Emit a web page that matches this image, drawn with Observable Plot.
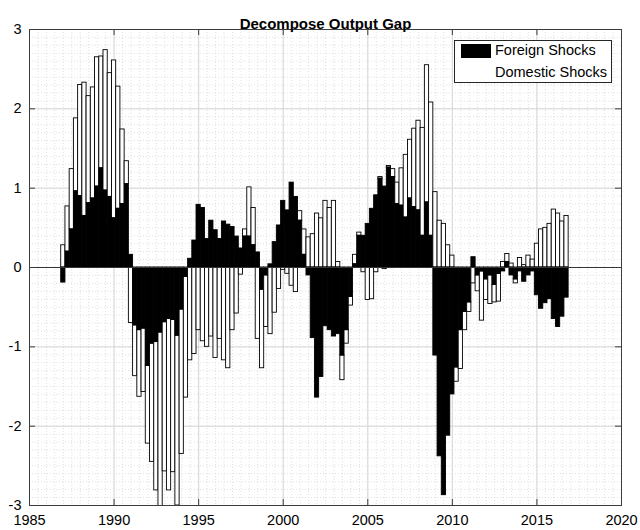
<!DOCTYPE html>
<html><head><meta charset="utf-8">
<script src="https://cdn.jsdelivr.net/npm/d3@7"></script>
<script src="https://cdn.jsdelivr.net/npm/@observablehq/plot@0.6"></script>
<style>
body{margin:0;background:#fff;font-family:"Liberation Sans",Arial,sans-serif;}
#wrap{position:relative;width:640px;height:530px;}
#legend{position:absolute;left:454px;top:40px;width:156px;height:41px;border:1px solid #262626;background:#fff;font-size:14.5px;color:#000;}
#legend .sw{position:absolute;left:6px;top:3px;width:30px;height:14px;background:#000;}
#legend .l1{position:absolute;left:40px;top:0px;line-height:18px;}
#legend .l2{position:absolute;left:40px;top:22px;line-height:18px;}
</style></head><body><div id="wrap"><div id="legend"><div class="sw"></div><div class="l1">Foreign Shocks</div><div class="l2">Domestic Shocks</div></div></div>
<script>
const title = "Decompose Output Gap";
const seriesNames = ["Foreign Shocks", "Domestic Shocks"];
const startYear = 1987; // first quarter 1987Q1, quarterly
const foreign = [
 -0.19,0.20,0.48,0.96, 0.90,0.65,0.81,0.87, 1.02,1.25,0.97,0.89, 0.62,0.74,0.80,1.05,
 0.16,-0.73,-0.79,-0.77, -1.24,-0.96,-0.94,-0.82, -0.69,-0.65,-0.66,-0.86, -0.53,-0.12,0.11,0.34,
 0.79,0.75,0.36,0.59, 0.47,0.36,0.58,0.54, 0.51,0.39,0.24,0.39, 0.39,0.28,0.19,-0.28,
 -0.10,0.04,0.32,0.53, 0.84,0.72,1.07,0.89, 0.59,0.16,-0.10,-0.89, -1.64,-1.38,-0.74,-0.79,
 -0.87,-0.84,-1.11,-0.79, -0.37,0.04,0.40,0.40, 0.55,0.74,0.91,1.12, 1.02,1.26,1.14,0.80,
 0.78,0.63,0.87,0.76, 0.72,0.40,0.82,0.40, -1.11,-2.38,-2.87,-2.12, -1.60,-1.26,-0.79,-0.56,
 -0.44,0.13,-0.10,-0.05, -0.15,-0.10,-0.22,-0.08, -0.05,0.07,-0.10,-0.15, -0.05,-0.18,-0.10,-0.05,
 -0.35,-0.52,-0.45,-0.40, -0.65,-0.75,-0.62,-0.38
];
const domestic = [
 0.28,0.57,0.76,0.92, 1.40,1.68,1.35,1.40, 1.63,1.41,1.77,1.56, 1.99,1.54,0.94,0.29,
 -0.70,-0.64,-0.84,-0.80, -0.98,-1.49,-1.87,-2.23, -1.88,-2.16,-1.92,-2.14, -1.82,-1.52,-1.17,-1.09,
 -0.79,-0.93,-1.00,-0.87, -1.14,-0.90,-1.17,-1.27, -0.79,-0.58,-0.09,0.09, 0.62,0.47,-0.90,-0.99,
 -0.65,-0.84,-0.57,-0.27, -0.03,-0.08,-0.23,-0.31, 0.12,0.32,0.38,0.42, 0.68,0.62,0.84,0.75,
 0.84,0.07,-0.31,-0.17, -0.11,0.12,0.04,-0.06, -0.41,-0.40,-0.06,0.02, -0.02,0.02,0.10,0.27,
 0.47,0.79,0.74,0.99, 1.13,1.36,1.73,1.68, 0.95,0.59,0.55,0.28, 0.15,-0.18,-0.49,-0.23,
 -0.12,-0.20,-0.20,-0.62, -0.26,-0.36,-0.22,-0.35, 0.07,0.10,0.05,-0.05, 0.12,0.03,0.15,0.10,
 0.30,0.48,0.50,0.55, 0.73,0.68,0.58,0.65
];
const xTickLabels = [1985,1990,1995,2000,2005,2010,2015,2020];
const yTickLabels = [-3,-2,-1,0,1,2,3];
const xMinor = d3.range(1985, 2020.001, 0.5);
const yMinor = d3.range(-30, 31, 1).map(v => v / 10);

// stacked bars: positives stack up, negatives stack down (foreign first)
const rows = [];
foreign.forEach((f, i) => {
  const t = startYear + i / 4;
  const d = domestic[i];
  const base = Math.sign(d) === Math.sign(f) ? f : 0;
  rows.push({t, series: seriesNames[1], y1: base, y2: base + d});
  rows.push({t, series: seriesNames[0], y1: 0, y2: f});
});

const W = 640, H = 530, mL = 29, mR = 19, mT = 29, mB = 25;
const iW = W - mL - mR, iH = H - mT - mB, tk = 6;

const chart = Plot.plot({
  width: W, height: H,
  marginLeft: mL, marginRight: mR, marginTop: mT, marginBottom: mB,
  style: {fontFamily: "Liberation Sans, Arial, sans-serif", fontSize: "14px", background: "#fff", color: "#000"},
  x: {domain: [1985, 2020]},
  y: {domain: [-3, 3]},
  color: {domain: seriesNames, range: ["#000", "#fff"]},
  marks: [
    Plot.ruleX(xMinor, {x: d => d, stroke: "#d2d2d2", strokeWidth: 0.7, strokeDasharray: "1,2"}),
    Plot.ruleY(yMinor, {y: d => d, stroke: "#d2d2d2", strokeWidth: 0.7, strokeDasharray: "1,2"}),
    Plot.ruleX(xTickLabels, {x: d => d, stroke: "#d6d6d6", strokeWidth: 1}),
    Plot.ruleY(yTickLabels, {y: d => d, stroke: "#d6d6d6", strokeWidth: 1}),
    Plot.rect(rows, {
      x1: d => d.t - 0.125, x2: d => d.t + 0.125, y1: "y1", y2: "y2",
      fill: "series", stroke: "#000", strokeWidth: 0.9, clip: true
    }),
    Plot.ruleY([0], {stroke: "#333", strokeWidth: 1}),
    Plot.frame({stroke: "#3c3c3c", strokeWidth: 1}),
    Plot.tickX(xTickLabels, {x: d => d, insetTop: iH - tk, stroke: "#3c3c3c"}),
    Plot.tickX(xTickLabels, {x: d => d, insetBottom: iH - tk, stroke: "#3c3c3c"}),
    Plot.tickY(yTickLabels, {y: d => d, insetRight: iW - tk, stroke: "#3c3c3c"}),
    Plot.tickY(yTickLabels, {y: d => d, insetLeft: iW - tk, stroke: "#3c3c3c"}),
    Plot.axisX(xTickLabels, {tickSize: 0, tickPadding: 9, tickFormat: d => String(d), fontSize: 14.5, label: null}),
    Plot.axisY(yTickLabels, {tickSize: 0, tickPadding: 8, tickFormat: d => String(d), fontSize: 14.5, label: null}),
    Plot.text([title], {frameAnchor: "top", dy: -11, fontWeight: "bold", fontSize: 15, text: d => d})
  ]
});
document.getElementById("wrap").prepend(chart);
</script>
</body></html>
